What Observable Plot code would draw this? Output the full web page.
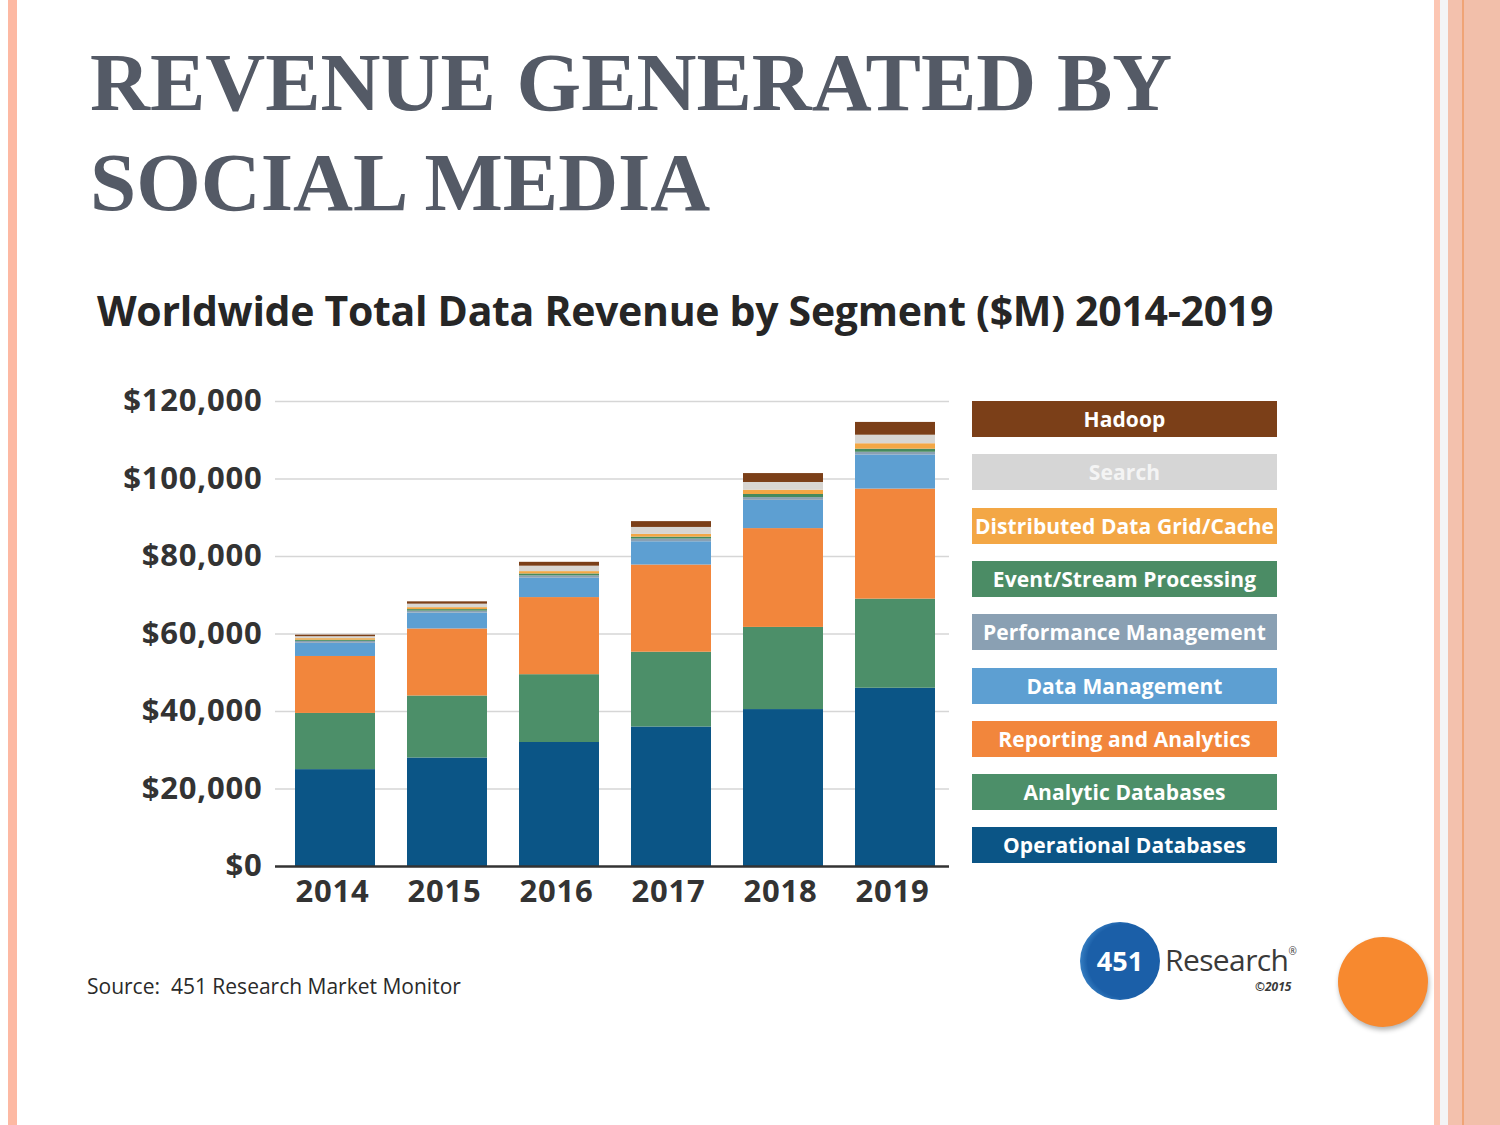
<!DOCTYPE html>
<html>
<head>
<meta charset="utf-8">
<script src="https://cdn.jsdelivr.net/npm/d3@7"></script>
<script src="https://cdn.jsdelivr.net/npm/@observablehq/plot@0.6"></script>
<style>
  html, body { margin: 0; padding: 0; background: #fff; }
  #page { position: relative; width: 1500px; height: 1125px; overflow: hidden; background: #fff; font-family: "Open Sans", sans-serif; }
  .abs { position: absolute; }
  #title { left: 90px; top: 32px; font-family: "Liberation Serif", serif; font-weight: bold; font-size: 83px; line-height: 100px; color: #545a66; white-space: nowrap; }
  #subtitle { left: 97px; top: 282px; font-family: "Open Sans", sans-serif; font-weight: bold; font-size: 41px; color: #262626; white-space: nowrap; letter-spacing: -0.3px; }
  #chart { left: 0; top: 0; }
  .leg { position: absolute; left: 972px; width: 305px; height: 36px; color: #fff; font-family: "Open Sans", sans-serif; font-weight: bold; font-size: 21px; line-height: 36px; text-align: center; white-space: nowrap; letter-spacing: 0.1px; overflow: hidden; }
  #source { left: 87px; top: 972px; font-family: "Open Sans", sans-serif; font-size: 21px; color: #2a2a2a; white-space: nowrap; }
  #chart text { letter-spacing: 0.8px; }
</style>
</head>
<body>
<div id="page">
  <div class="abs" style="left:8px;top:0;width:9px;height:1125px;background:#fdb9a3"></div>
  <div class="abs" style="left:1434px;top:0;width:6px;height:1125px;background:#fcc6b3"></div>
  <div class="abs" style="left:1440px;top:0;width:8px;height:1125px;background:#f3f4f6"></div>
  <div class="abs" style="left:1448px;top:0;width:14px;height:1125px;background:#f3c1ad"></div>
  <div class="abs" style="left:1462px;top:0;width:2px;height:1125px;background:#f0a476"></div>
  <div class="abs" style="left:1464px;top:0;width:36px;height:1125px;background:#f2bfaa"></div>

  <div id="title" class="abs">REVENUE GENERATED BY<br>SOCIAL MEDIA</div>
  <div id="subtitle" class="abs">Worldwide Total Data Revenue by Segment ($M) 2014-2019</div>
  <div id="chart" class="abs"></div>
  <div id="legend"></div>
  <div id="source" class="abs">Source:&nbsp; 451 Research Market Monitor</div>

  <!-- 451 Research logo -->
  <div class="abs" style="left:1080px;top:922px;width:80px;height:78px;border-radius:50%;background:radial-gradient(circle at 55% 50%, #1b5fa8 0%, #1b5fa8 62%, #3d86c8 78%, #8fbde4 100%);"></div>
  <div class="abs" style="left:1080px;top:942px;width:80px;text-align:center;color:#fff;font-family:'Open Sans',sans-serif;font-weight:bold;font-size:27px;line-height:38px;">451</div>
  <div class="abs" style="left:1165px;top:940px;color:#3a3a3a;font-family:'Open Sans',sans-serif;font-size:30px;line-height:40px;letter-spacing:-0.6px;">Research<span style="font-size:10px;vertical-align:top;line-height:22px;">®</span></div>
  <div class="abs" style="left:1255px;top:978px;color:#3a3a3a;font-family:'Open Sans',sans-serif;font-weight:bold;font-style:italic;font-size:12px;">©2015</div>

  <!-- orange circle -->
  <div class="abs" style="left:1338px;top:937px;width:90px;height:90px;border-radius:50%;background:#f7892f;box-shadow:1px 3px 5px rgba(0,0,0,0.3);"></div>
</div>
<script>
const years = ["2014", "2015", "2016", "2017", "2018", "2019"];
const segments = [
  "Operational Databases",
  "Analytic Databases",
  "Reporting and Analytics",
  "Data Management",
  "Performance Management",
  "Event/Stream Processing",
  "Distributed Data Grid/Cache",
  "Search",
  "Hadoop"
];
const segmentColors = ["#0b5586", "#4c8f69", "#f2863c", "#5d9fd2", "#8aa0b3", "#468a5e", "#f3a745", "#d8d6d2", "#7b3f18"];
const legendColors = ["#0b5586", "#4c8f69", "#f2863c", "#5d9fd2", "#8aa0b3", "#4b8c65", "#f3a745", "#d6d6d6", "#7b3f18"];
const operationalDatabases = [25000, 28000, 32000, 36000, 40500, 46000];
const analyticDatabases = [14500, 16000, 17500, 19300, 21200, 23000];
const reportingAndAnalytics = [14700, 17300, 19900, 22500, 25500, 28400];
const dataManagement = [3400, 4100, 5000, 6000, 7300, 8800];
const performanceManagement = [500, 500, 600, 700, 700, 700];
const eventStreamProcessing = [300, 400, 500, 500, 800, 800];
const distributedDataGrid = [400, 500, 600, 700, 1100, 1400];
const search = [500, 900, 1400, 1800, 2000, 2200];
const hadoop = [400, 600, 1000, 1500, 2300, 3300];
const yTicks = [0, 20000, 40000, 60000, 80000, 100000, 120000];

const series = [operationalDatabases, analyticDatabases, reportingAndAnalytics, dataManagement,
  performanceManagement, eventStreamProcessing, distributedDataGrid, search, hadoop];
const data = [];
segments.forEach((s, i) => years.forEach((y, j) => data.push({segment: s, year: y, value: series[i][j]})));

const fmt = d3.format(",");
const chart = Plot.plot({
  width: 960,
  height: 920,
  marginLeft: 275,
  marginRight: 5,
  marginTop: 401,
  marginBottom: 54,
  style: {fontFamily: "Open Sans, sans-serif", fontWeight: "bold", color: "#333", background: "transparent", overflow: "visible"},
  x: {domain: years, paddingInner: 0.2857, paddingOuter: 0.16, label: null},
  y: {domain: [0, 120000], label: null},
  color: {domain: segments, range: segmentColors},
  marks: [
    Plot.ruleY(yTicks.filter(d => d > 0), {stroke: "#d6d6d6", strokeWidth: 1.5, insetRight: 6}),
    Plot.barY(data, {x: "year", y: "value", fill: "segment", order: null}),
    Plot.ruleY([0], {stroke: "#333", strokeWidth: 2.5, insetRight: 6}),
    Plot.axisY({ticks: yTicks, tickFormat: d => "$" + fmt(d), tickSize: 0, tickPadding: 13, fontSize: 31, label: null}),
    Plot.axisX({tickSize: 0, tickPadding: 13, fontSize: 31, dx: -3, label: null})
  ]
});
document.getElementById("chart").appendChild(chart);

const legend = document.getElementById("legend");
const legendTextColors = {"Search": "#f4f4f4"};
segments.slice().reverse().forEach((s, i) => {
  const div = document.createElement("div");
  div.className = "leg";
  div.style.top = (401 + i * 53.3) + "px";
  div.style.background = legendColors[segments.indexOf(s)];
  if (legendTextColors[s]) div.style.color = legendTextColors[s];
  div.textContent = s;
  legend.appendChild(div);
});
</script>
</body>
</html>
